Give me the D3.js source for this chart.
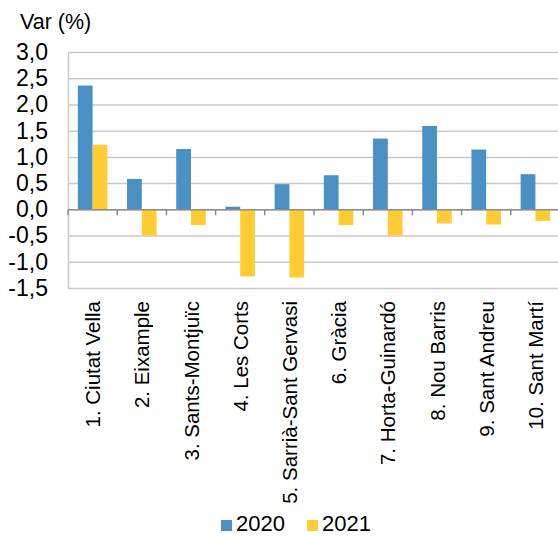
<!DOCTYPE html>
<html lang="ca">
<head>
<meta charset="utf-8">
<title>Var (%) per districte</title>
<script src="https://d3js.org/d3.v7.min.js"></script>
<style>
  body { margin: 0; background: #fff; }
  svg { display: block; font-family: "Liberation Sans", Arial, sans-serif; }
</style>
</head>
<body>
<div id="chart"></div>
<script>
// districtes
const districts = ["1. Ciutat Vella", "2. Eixample", "3. Sants-Montjuïc", "4. Les Corts",
  "5. Sarrià-Sant Gervasi", "6. Gràcia", "7. Horta-Guinardó", "8. Nou Barris",
  "9. Sant Andreu", "10. Sant Martí"];
const series = ["2020", "2021"];
const values2020 = [2.36, 0.58, 1.15, 0.05, 0.48, 0.65, 1.35, 1.59, 1.14, 0.67];
const values2021 = [1.23, -0.50, -0.30, -1.28, -1.30, -0.30, -0.50, -0.27, -0.29, -0.22];
const yTicks = [3.0, 2.5, 2.0, 1.5, 1.0, 0.5, 0.0, -0.5, -1.0, -1.5];
const colors = ["#4a90c4", "#ffcc33"];

const data = districts.map((d, i) => ({ name: d, "2020": values2020[i], "2021": values2021[i] }));

const width = 558, height = 536;
const margin = { top: 52, right: 0, bottom: 248, left: 68 };

const svg = d3.select("#chart").append("svg")
  .attr("width", width).attr("height", height);

const x = d3.scaleBand()
  .domain(districts)
  .range([margin.left, 560]);

const bw = x.bandwidth();
const x1 = d3.scaleBand()
  .domain(series)
  .range([bw * 0.2, bw * 0.8]);

const y = d3.scaleLinear()
  .domain([-1.5, 3.0])
  .range([height - margin.bottom, margin.top]);

const fmt = v => d3.format(".1f")(v).replace(".", ",").replace("−", "-");

// gridlines
svg.append("g")
  .attr("transform", `translate(${margin.left},0)`)
  .call(d3.axisLeft(y).tickValues(yTicks).tickSize(-(width - margin.left)).tickFormat(""))
  .call(g => g.select(".domain").remove())
  .call(g => g.selectAll(".tick line").attr("stroke", "#c9c9c9").attr("stroke-width", 1.5));

// y axis
svg.append("g")
  .attr("transform", `translate(${margin.left},0)`)
  .call(d3.axisLeft(y).tickValues(yTicks).tickSize(0).tickPadding(20).tickFormat(fmt))
  .call(g => g.select(".domain").attr("stroke", "#c9c9c9").attr("stroke-width", 1.5))
  .call(g => g.selectAll(".tick text").attr("font-size", 23).attr("fill", "#000")
    .attr("font-family", "Liberation Sans, Arial, sans-serif"));

// bars
svg.append("g")
  .selectAll("g")
  .data(data)
  .join("g")
    .attr("transform", d => `translate(${x(d.name)},0)`)
  .selectAll("rect")
  .data(d => series.map((s, j) => ({ key: s, value: d[s], j })))
  .join("rect")
    .attr("x", d => x1(d.key))
    .attr("width", x1.bandwidth())
    .attr("y", d => y(Math.max(0, d.value)))
    .attr("height", d => Math.abs(y(d.value) - y(0)))
    .attr("fill", d => colors[d.j]);

// zero axis with category ticks
svg.append("g")
  .attr("transform", `translate(0,${y(0)})`)
  .call(d3.axisBottom(x).tickSize(0).tickFormat(""))
  .call(g => g.select(".domain").attr("stroke", "#8c8c8c").attr("stroke-width", 1.5));

svg.append("g")
  .selectAll("line")
  .data(districts)
  .join("line")
    .attr("x1", d => x(d)).attr("x2", d => x(d))
    .attr("y1", y(0)).attr("y2", y(0) + 6)
    .attr("stroke", "#8c8c8c").attr("stroke-width", 1.5);

// category labels
svg.append("g")
  .selectAll("text")
  .data(districts)
  .join("text")
    .attr("transform", d => `translate(${x(d) + bw / 2 + 7.5},${height - margin.bottom + 13}) rotate(-90)`)
    .attr("text-anchor", "end")
    .attr("font-size", 20.5)
    .text(d => d);

// title
svg.append("text")
  .attr("x", 20).attr("y", 29)
  .attr("font-size", 21.5)
  .text("Var (%)");

// legend
const legend = svg.append("g").attr("transform", "translate(221,520)");
const lx = [0, 86];
series.forEach((s, i) => {
  legend.append("rect")
    .attr("x", lx[i]).attr("y", 0).attr("width", 11).attr("height", 11)
    .attr("fill", colors[i]);
  legend.append("text")
    .attr("x", lx[i] + 15).attr("y", 11)
    .attr("font-size", 22)
    .text(s);
});
</script>
</body>
</html>
